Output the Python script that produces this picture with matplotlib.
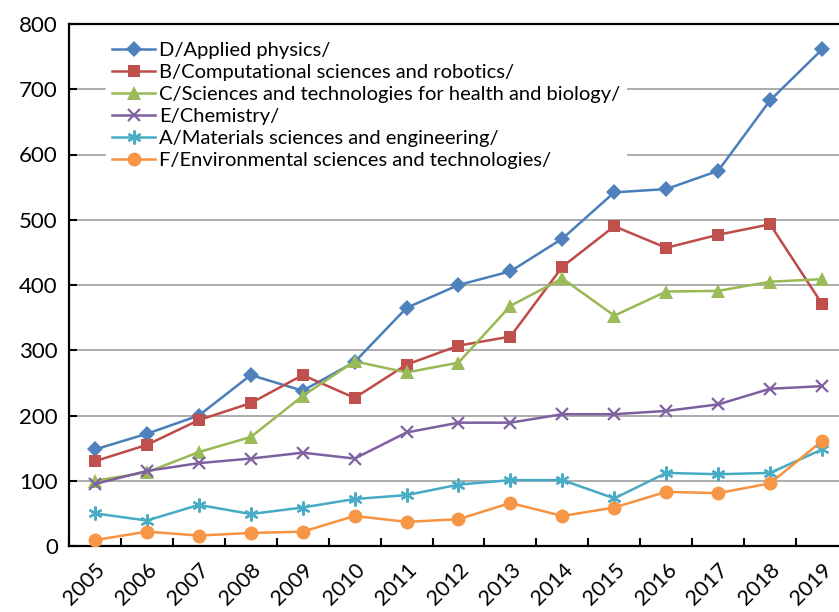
import numpy as np
import matplotlib
matplotlib.use("Agg")
from matplotlib import pyplot as plt
from matplotlib.ticker import FixedLocator, NullFormatter

plt.rcParams["font.family"] = ["Lato", "DejaVu Sans"]

years = [str(y) for y in range(2005, 2020)]

applied_physics = [148, 172, 200, 262, 238, 282, 365, 400, 421, 471, 542, 547, 575, 683, 761]
computational = [130, 155, 193, 219, 262, 227, 278, 307, 321, 428, 490, 457, 477, 493, 371]
health_biology = [100, 113, 144, 167, 230, 283, 266, 281, 368, 410, 353, 390, 391, 405, 409]
chemistry = [95, 115, 127, 134, 143, 134, 174, 189, 189, 202, 202, 207, 217, 241, 245]
materials = [50, 39, 63, 49, 59, 72, 78, 94, 101, 101, 73, 112, 110, 112, 148]
environmental = [9, 22, 16, 20, 22, 46, 37, 41, 66, 46, 59, 83, 81, 96, 161]

SERIES = [
    ("D/Applied physics/", applied_physics, "#4A7EBB", "#4F81BD", "D", 8, 0),
    ("B/Computational sciences and robotics/", computational, "#BE4B48", "#C0504D", "s", 9, 0),
    ("C/Sciences and technologies for health and biology/", health_biology, "#98B954", "#9BBB59", "^", 10, 0),
    ("E/Chemistry/", chemistry, "#7D60A0", "#8064A2", "x", 9, 1.6),
    ("A/Materials sciences and engineering/", materials, "#46AAC5", "#4BACC6", (6, 2, 0), 10, 1.6),
    ("F/Environmental sciences and technologies/", environmental, "#F69240", "#F79646", "o", 10, 0),
]


def run():
    fig = plt.figure(figsize=(8.39, 6.12), dpi=100)
    ax = fig.add_axes([69 / 839, 1 - 546 / 612, 779 / 839, 522 / 612])
    x = np.arange(len(years))

    for label, values, line_color, marker_color, marker, size, mew in SERIES:
        ax.plot(
            x, values, color=line_color, linewidth=1.8, marker=marker,
            markersize=size, markerfacecolor=marker_color,
            markeredgecolor=marker_color, markeredgewidth=mew, label=label,
            zorder=3,
        )

    ax.set_xlim(-0.5, len(years) - 0.5)
    ax.set_ylim(0, 800)
    ax.set_yticks(range(0, 801, 100))
    ax.yaxis.grid(True, color="#A6A6A6", linewidth=1.3, zorder=0)
    ax.set_axisbelow(True)

    ax.set_xticks(x)
    ax.set_xticklabels(years, rotation=45, ha="right", rotation_mode="anchor")
    ax.xaxis.set_minor_locator(FixedLocator(np.arange(-0.5, len(years), 1.0)))
    ax.xaxis.set_minor_formatter(NullFormatter())
    ax.tick_params(axis="x", which="major", length=0, labelsize=15.5, pad=10)
    ax.tick_params(axis="x", which="minor", direction="in", length=6, width=1.5)
    ax.tick_params(axis="y", direction="in", length=6, width=1.5, labelsize=16, pad=8)

    for side in ["left", "bottom", "top"]:
        ax.spines[side].set_color("black")
        ax.spines[side].set_linewidth(1.6)
    ax.spines["right"].set_visible(False)

    leg = ax.legend(
        loc="upper left", bbox_to_anchor=(0.035, 0.997), fontsize=14.5,
        frameon=True, fancybox=False, framealpha=1, edgecolor="white",
        handlelength=2.1, handletextpad=0.2, labelspacing=0.25,
        borderpad=0.3,
    )
    leg.set_zorder(5)

    fig.savefig("out.png", dpi=100)


if __name__ == "__main__":
    run()
